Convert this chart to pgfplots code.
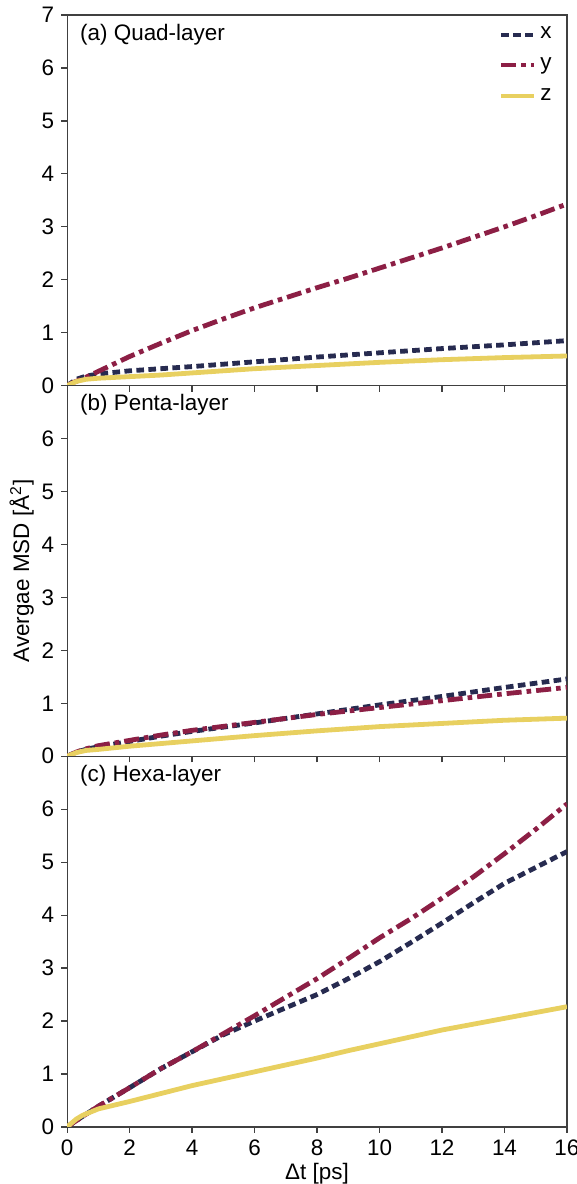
\documentclass[border=0pt]{standalone}
\usepackage{pgfplots}
\pgfplotsset{compat=1.18}
\usepackage{fontspec}
\setmainfont{Liberation Sans}
\definecolor{cx}{HTML}{272B50}
\definecolor{cy}{HTML}{8C1F45}
\definecolor{cz}{HTML}{E8D060}
\pgfplotsset{
  panel/.style={
    scale only axis, width=249.5pt, height=185pt,
    xmin=0, xmax=16, ymin=0, ymax=7,
    xtick={0,2,...,16}, axis line style={line width=0.6pt, black!75},
    tick style={line width=0.6pt, black!75},
    tick align=outside, major tick length=3pt,
    xtick pos=bottom, ytick pos=left,
    /pgf/number format/assume math mode=true,
    tick label style={font=\fontsize{11.2}{13}\selectfont},
    label style={font=\fontsize{11.2}{13}\selectfont},
    clip=true,
  },
  sx/.style={cx, line width=2.4pt, dash pattern=on 3.8pt off 2.2pt},
  sy/.style={cy, line width=2.4pt, dash pattern=on 7.5pt off 2.5pt on 2.3pt off 2.5pt},
  sz/.style={cz, line width=2.4pt},
}
\begin{document}
\begin{tikzpicture}
% (a)
\begin{axis}[panel, at={(0,370pt)}, anchor=south west, ytick={0,...,7},
  xticklabels={},
  legend style={draw=none, fill=none, at={(0.99,0.99)}, anchor=north east,
    font=\fontsize{11.2}{13}\selectfont, row sep=4pt},
  legend cell align=left,
  legend image code/.code={\draw[#1, line width=2pt] (0pt,0pt) -- (16.5pt,0pt);}]
\addplot[sx] coordinates {(0,0) (0.3,0.12) (0.6,0.18) (1,0.22) (2,0.28) (3,0.32) (4,0.36) (6,0.45) (8,0.54) (10,0.62) (12,0.70) (14,0.77) (16,0.85)};
\addlegendentry{x}
\addplot[sy] coordinates {(0,0) (0.2,0.06) (0.5,0.13) (1,0.27) (1.5,0.41) (2,0.55) (3,0.8) (4,1.04) (5,1.26) (6,1.47) (7,1.66) (8,1.85) (9,2.03) (10,2.22) (11,2.41) (12,2.6) (13,2.8) (14,3.0) (15,3.21) (16,3.43)};
\addlegendentry{y}
\addplot[sz] coordinates {(0,0) (0.3,0.08) (0.6,0.12) (1,0.14) (2,0.17) (3,0.2) (4,0.24) (6,0.32) (8,0.38) (10,0.44) (12,0.49) (14,0.53) (16,0.56)};
\addlegendentry{z}
\node[anchor=north west, font=\fontsize{11.2}{13}\selectfont] at (rel axis cs:0.012,0.995) {(a) Quad-layer};
\end{axis}
% (b)
\begin{axis}[panel, at={(0,185pt)}, anchor=south west, ytick={0,...,6},
  xticklabels={}, ylabel={Avergae MSD [Å\textsuperscript{2}]}, ylabel style={yshift=-3pt}]
\addplot[sx] coordinates {(0,0) (0.3,0.08) (0.6,0.13) (1,0.18) (2,0.28) (3,0.38) (4,0.47) (6,0.63) (8,0.8) (10,0.97) (12,1.13) (14,1.3) (16,1.46)};
\addplot[sy] coordinates {(0,0) (0.3,0.08) (0.6,0.14) (1,0.2) (2,0.3) (3,0.4) (4,0.49) (6,0.64) (8,0.79) (10,0.92) (12,1.05) (14,1.18) (16,1.3)};
\addplot[sz] coordinates {(0,0) (0.3,0.07) (0.6,0.11) (1,0.13) (2,0.19) (3,0.24) (4,0.29) (6,0.39) (8,0.48) (10,0.56) (12,0.62) (14,0.68) (16,0.72)};
\node[anchor=north west, font=\fontsize{11.2}{13}\selectfont] at (rel axis cs:0.012,0.995) {(b) Penta-layer};
\end{axis}
% (c)
\begin{axis}[panel, at={(0,0)}, anchor=south west, ytick={0,...,6},
  xlabel={Δt [ps]}, xlabel style={yshift=3pt}]
\addplot[sx] coordinates {(0,0) (0.5,0.2) (1,0.39) (2,0.74) (3,1.1) (4,1.42) (5,1.74) (6,2.0) (7,2.25) (8,2.5) (9,2.8) (10,3.12) (11,3.48) (12,3.85) (13,4.23) (14,4.6) (15,4.9) (16,5.2)};
\addplot[sy] coordinates {(0,0) (0.5,0.2) (1,0.39) (2,0.74) (3,1.1) (4,1.42) (5,1.76) (6,2.1) (7,2.45) (8,2.8) (9,3.18) (10,3.57) (11,3.93) (12,4.32) (13,4.72) (14,5.16) (15,5.62) (16,6.1)};
\addplot[sz] coordinates {(0,0) (0.3,0.15) (0.5,0.22) (1,0.34) (2,0.48) (3,0.63) (4,0.78) (5,0.91) (6,1.04) (7,1.17) (8,1.3) (9,1.44) (10,1.57) (11,1.7) (12,1.83) (13,1.94) (14,2.05) (15,2.16) (16,2.27)};
\node[anchor=north west, font=\fontsize{11.2}{13}\selectfont] at (rel axis cs:0.012,0.995) {(c) Hexa-layer};
\end{axis}
\pgfresetboundingbox
\path (-33.5pt,-28.5pt) rectangle (254.5pt,562.5pt);
\end{tikzpicture}
\end{document}
